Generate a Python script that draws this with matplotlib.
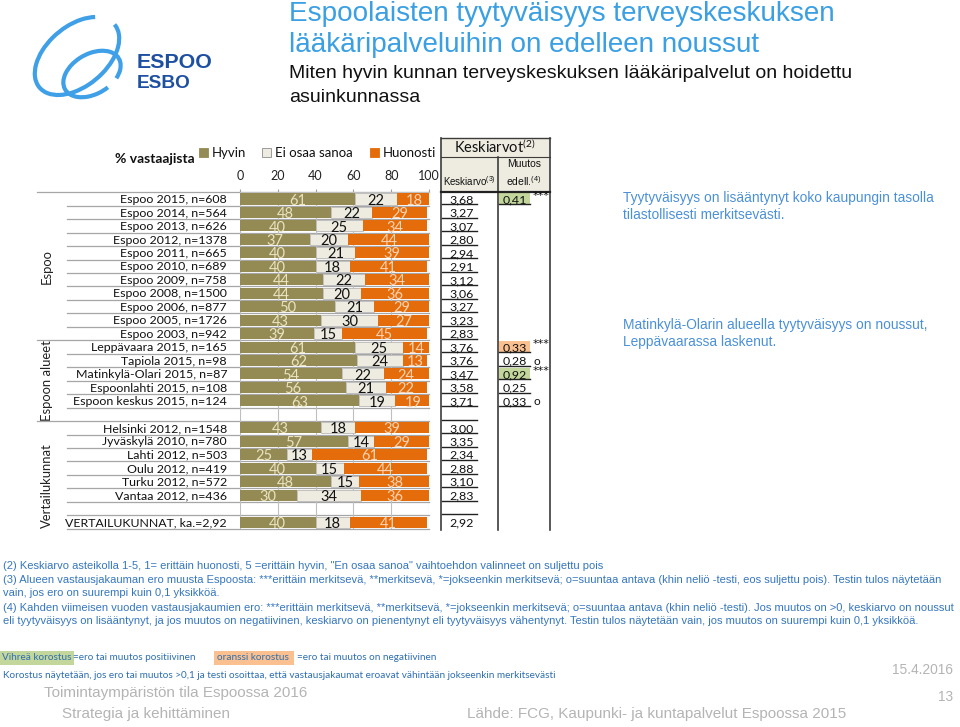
import matplotlib
matplotlib.use('Agg')
import matplotlib.pyplot as plt
import matplotlib.transforms as mtransforms
from matplotlib.patches import Rectangle, Arc
from matplotlib import font_manager
import numpy as np

# ---- data ----
labels = ['Espoo 2015, n=608', 'Espoo 2014, n=564', 'Espoo 2013, n=626', 'Espoo 2012, n=1378',
          'Espoo 2011, n=665', 'Espoo 2010, n=689', 'Espoo 2009, n=758', 'Espoo 2008, n=1500',
          'Espoo 2006, n=877', 'Espoo 2005, n=1726', 'Espoo 2003, n=942',
          'Leppävaara 2015, n=165', 'Tapiola 2015, n=98', 'Matinkylä-Olari 2015, n=87',
          'Espoonlahti 2015, n=108', 'Espoon keskus 2015, n=124', '',
          'Helsinki 2012, n=1548', 'Jyväskylä 2010, n=780', 'Lahti 2012, n=503',
          'Oulu 2012, n=419', 'Turku 2012, n=572', 'Vantaa 2012, n=436', '',
          'VERTAILUKUNNAT, ka.=2,92']
nan = np.nan
hyvin = [61, 48, 40, 37, 40, 40, 44, 44, 50, 43, 39, 61, 62, 54, 56, 63, nan,
         43, 57, 25, 40, 48, 30, nan, 40]
eos = [22, 22, 25, 20, 21, 18, 22, 20, 21, 30, 15, 25, 24, 22, 21, 19, nan,
       18, 14, 13, 15, 15, 34, nan, 18]
huonosti = [18, 29, 34, 44, 39, 41, 34, 36, 29, 27, 45, 14, 13, 24, 22, 19, nan,
            39, 29, 61, 44, 38, 36, nan, 41]
keskiarvo = [3.68, 3.27, 3.07, 2.80, 2.94, 2.91, 3.12, 3.06, 3.27, 3.23, 2.83,
             3.76, 3.76, 3.47, 3.58, 3.71, nan, 3.00, 3.35, 2.34, 2.88, 3.10, 2.83, nan, 2.92]
muutos = {0: 0.41, 11: 0.33, 12: 0.28, 13: 0.92, 14: 0.25, 15: 0.33}
merkit = {0: '***', 11: '***', 12: 'o', 13: '***', 15: 'o'}
korostus = {0: 'green', 11: 'orange', 13: 'green'}
groups = [('Espoo', 5.0), ('Espoon alueet', 13.5), ('Vertailukunnat', 21.3)]
group_starts = [0, 11, 17]
ticks = [0, 20, 40, 60, 80, 100]

C_HYV = '#948A54'
C_EOS = '#EEECE1'
C_HUO = '#E46C0A'
C_GREEN = '#C3D69B'
C_ORANGE = '#FAC090'
C_TITLE = '#3A9FE3'
C_NOTE = '#3576BE'
C_GRAY = '#B4B4B4'

names = {f.name for f in font_manager.fontManager.ttflist}
NARROW = 'Liberation Sans Narrow' if 'Liberation Sans Narrow' in names else 'Liberation Sans'
CAL = 'Lato'
plt.rcParams['font.family'] = [CAL, 'DejaVu Sans']
plt.rcParams['mathtext.default'] = 'regular'

W, H = 960, 727
fig = plt.figure(figsize=(W / 100, H / 100), dpi=100)
bg = fig.add_axes([0, 0, 1, 1])
bg.set_xlim(0, W)
bg.set_ylim(H, 0)
bg.axis('off')
renderer = fig.canvas.get_renderer()


def fit(t, width):
    w = t.get_window_extent(renderer).width
    t.set_fontsize(t.get_fontsize() * width / w)
    return t.get_fontsize()


# ---- bar axes ----
n = len(labels)
y0, dy = 199, 13.46
top_px = y0 - dy / 2
bot_px = y0 + (n - 0.5) * dy
x0, x1 = 240, 429
ax = fig.add_axes([x0 / W, 1 - bot_px / H, (x1 - x0) / W, (bot_px - top_px) / H])
ax.patch.set_visible(False)
ax.set_xlim(0, 100)
ax.set_ylim(n - 0.5, -0.5)
trans = mtransforms.blended_transform_factory(bg.transData, ax.transData)

rows = np.arange(n)
h = np.array(hyvin, float)
e = np.array(eos, float)
o = np.array(huonosti, float)
ax.barh(rows, h, height=0.82, color=C_HYV, zorder=3)
ax.barh(rows, e, left=h, height=0.82, color=C_EOS, edgecolor='#B8B8B8', linewidth=0.6, zorder=3)
ax.barh(rows, o, left=h + e, height=0.82, color=C_HUO, zorder=3)

for i in rows:
    if np.isnan(h[i]):
        continue
    ax.text(h[i] / 2, i + 0.12, f'{h[i]:.0f}', ha='center', va='center', fontsize=10.5,
            color='#EAE3C0', zorder=4)
    ax.text(h[i] + e[i] / 2, i + 0.12, f'{e[i]:.0f}', ha='center', va='center', fontsize=10.5,
            color='#111111', zorder=4)
    ax.text(h[i] + e[i] + o[i] / 2, i + 0.12, f'{o[i]:.0f}', ha='center', va='center',
            fontsize=10.5, color='#FBD3B3', zorder=4, clip_on=True)

ax.set_xticks(ticks)
ax.set_xticklabels([str(t) for t in ticks])
ax.set_yticks([])
ax.xaxis.tick_top()
ax.tick_params(axis='x', length=2.5, width=0.8, pad=5, labelsize=9, colors='#222222')
ax.tick_params(axis='x', color='#A0A0A0')
ax.grid(axis='x', color='#BFBFBF', linewidth=0.8, zorder=0)
for s in ['left', 'right', 'bottom']:
    ax.spines[s].set_visible(False)
ax.spines['top'].set_color('#BFBFBF')

# ---- row lines and labels ----
for k in range(n + 1):
    yb = k - 0.5
    if k in group_starts:
        xs = 37
    else:
        xs = 67
    bg.plot([xs, x1], [yb, yb], transform=trans, color='#A6A6A6', lw=0.9, zorder=1)

lab_size = None
for i, lab in enumerate(labels):
    if not lab:
        continue
    t = bg.text(227, i + 0.05, lab, transform=trans, ha='right', va='center',
                fontsize=10, color='#111111')
    if lab_size is None:
        lab_size = fit(t, 107)
    else:
        t.set_fontsize(lab_size)

for g, pos in groups:
    bg.text(47, pos, g, transform=trans, rotation=90, ha='center', va='center',
            fontsize=lab_size * 1.05, color='#222222')

# ---- keskiarvo table ----
for xv, ytop in [(441, 138), (498, 157), (550, 138)]:
    bg.plot([xv, xv], [ytop, 530], color='#3C3C3C', lw=1.2, zorder=2)
bg.add_patch(Rectangle((441, 138), 109, 54, facecolor='#EEECE1', edgecolor='none', zorder=1))
bg.plot([441, 550], [138, 138], color='#3C3C3C', lw=1.0, zorder=2)
bg.plot([441, 550], [157, 157], color='#3C3C3C', lw=0.8, zorder=2)
bg.plot([441, 550], [192, 192], color='#222222', lw=1.6, zorder=2)
bg.text(495, 147, r'Keskiarvot$^{(2)}$', ha='center', va='center', fontsize=10.5, color='#111111')
bg.text(469, 181, r'Keskiarvo$^{(3)}$', ha='center', va='center', fontsize=7,
        family=NARROW, color='#111111')
bg.text(524, 164, 'Muutos', ha='center', va='center', fontsize=7.5, family=NARROW,
        color='#111111')
bg.text(524, 181, r'edell.$^{(4)}$', ha='center', va='center', fontsize=7.5,
        family=NARROW, color='#111111')

for i in rows:
    if i < n - 1:
        bg.plot([442, 477], [i + 0.4, i + 0.4], transform=trans, color='#222222', lw=1.0)
    if np.isnan(keskiarvo[i]):
        continue
    bg.text(462, i + 0.05, f'{keskiarvo[i]:.2f}'.replace('.', ','), transform=trans,
            ha='center', va='center', fontsize=lab_size, color='#111111')

for i, v in muutos.items():
    if i in korostus:
        fc = C_GREEN if korostus[i] == 'green' else C_ORANGE
        bg.add_patch(Rectangle((499, i - 0.45), 31, 0.85, transform=trans,
                               facecolor=fc, edgecolor='none', zorder=1))
    bg.plot([499, 530], [i + 0.4, i + 0.4], transform=trans, color='#222222', lw=1.0)
    bg.text(515, i + 0.05, f'{v:.2f}'.replace('.', ','), transform=trans,
            ha='center', va='center', fontsize=lab_size, color='#111111')
for i, m in merkit.items():
    if m == 'o':
        bg.text(534, i + 0.05, m, transform=trans, ha='left', va='center', fontsize=8.5,
                color='#111111')
    else:
        bg.text(533, i - 0.2, m, transform=trans, ha='left', va='center', fontsize=8,
                family='DejaVu Sans', color='#111111')

# ---- legend ----
bg.text(115, 159, '% vastaajista', ha='left', va='center', fontsize=10,
        fontweight='bold', color='#111111')
for xq, fc, ec, txt in [(199, C_HYV, C_HYV, 'Hyvin'), (262, C_EOS, '#8C8C8C', 'Ei osaa sanoa'),
                        (370, C_HUO, C_HUO, 'Huonosti')]:
    bg.add_patch(Rectangle((xq, 148), 9, 9, facecolor=fc, edgecolor=ec, lw=0.6))
    bg.text(xq + 13, 153, txt, ha='left', va='center', fontsize=9.5, color='#111111')

# ---- header: logo and titles ----
bg.add_patch(Arc((77, 56), 98, 60, angle=-40, theta1=0, theta2=335, color='#3FA0E8', lw=3))
bg.add_patch(Arc((92, 74), 62, 40, angle=-30, theta1=70, theta2=400, color='#3FA0E8', lw=3))
t = bg.text(137, 62, 'ESPOO', ha='left', va='center', fontsize=14, fontweight='bold',
            family='Liberation Sans', color='#1E50A2')
fit(t, 76)
t = bg.text(137, 83, 'ESBO', ha='left', va='center', fontsize=14, fontweight='bold',
            family='Liberation Sans', color='#1E50A2')
fit(t, 54)

t = bg.text(289, 14, 'Espoolaisten tyytyväisyys terveyskeskuksen', ha='left', va='center',
            fontsize=20, family=NARROW, color=C_TITLE)
fit(t, 545)
t = bg.text(289, 45, 'lääkäripalveluihin on edelleen noussut', ha='left', va='center',
            fontsize=20, family=NARROW, color=C_TITLE)
fit(t, 471)
t = bg.text(289, 73, 'Miten hyvin kunnan terveyskeskuksen lääkäripalvelut on hoidettu',
            ha='left', va='center', fontsize=13, family=NARROW, color='#111111')
fit(t, 559)
bg.text(289, 98, 'asuinkunnassa', ha='left', va='center', fontsize=t.get_fontsize(),
        family=NARROW, color='#111111')

# ---- comments on the right ----
C_COMM = '#4A90D9'
t = bg.text(623, 198, 'Tyytyväisyys on lisääntynyt koko kaupungin tasolla', ha='left',
            va='center', fontsize=10, family='Liberation Sans', color=C_COMM)
cs = fit(t, 310)
bg.text(623, 215, 'tilastollisesti merkitsevästi.', ha='left', va='center', fontsize=cs,
        family='Liberation Sans', color=C_COMM)
bg.text(623, 325, 'Matinkylä-Olarin alueella tyytyväisyys on noussut,', ha='left',
        va='center', fontsize=cs, family='Liberation Sans', color=C_COMM)
bg.text(623, 342, 'Leppävaarassa laskenut.', ha='left', va='center', fontsize=cs,
        family='Liberation Sans', color=C_COMM)

# ---- footnotes ----
notes = [
    (566, '(2) Keskiarvo asteikolla 1-5, 1= erittäin huonosti, 5 =erittäin hyvin, "En osaa sanoa" '
          'vaihtoehdon valinneet on suljettu pois'),
    (580, '(3) Alueen vastausjakauman ero muusta Espoosta: ***erittäin merkitsevä, **merkitsevä, '
          '*=jokseenkin merkitsevä; o=suuntaa antava (khin neliö -testi, eos suljettu pois). '
          'Testin tulos näytetään'),
    (593, 'vain, jos ero on suurempi kuin 0,1 yksikköä.'),
    (608, '(4) Kahden viimeisen vuoden vastausjakaumien ero: ***erittäin merkitsevä, **merkitsevä, '
          '*=jokseenkin merkitsevä; o=suuntaa antava (khin neliö -testi). Jos muutos on >0, '
          'keskiarvo on noussut'),
    (621, 'eli tyytyväisyys on lisääntynyt, ja jos muutos on negatiivinen, keskiarvo on '
          'pienentynyt eli tyytyväisyys vähentynyt. Testin tulos näytetään vain, jos muutos on '
          'suurempi kuin 0,1 yksikköä.'),
]
note_texts = [bg.text(3, yy, s, ha='left', va='center', fontsize=8, family=NARROW,
                      color=C_NOTE) for yy, s in notes]
ns = fit(note_texts[3], 952)
for t in note_texts:
    t.set_fontsize(ns)

# ---- highlight legend ----
C_KOR = '#2E6FB0'
t1 = bg.text(2, 658, 'Vihreä korostus', ha='left', va='center', fontsize=7.5, color=C_KOR)
ks = fit(t1, 69)
t1.set_bbox(dict(facecolor=C_GREEN, edgecolor='none', pad=2))
bg.text(73, 658, '=ero tai muutos positiivinen', ha='left', va='center', fontsize=ks, color=C_KOR)
t2 = bg.text(217, 658, 'oranssi korostus ', ha='left', va='center', fontsize=ks, color=C_KOR)
t2.set_bbox(dict(facecolor=C_ORANGE, edgecolor='none', pad=2))
bg.text(297, 658, '=ero tai muutos on negatiivinen', ha='left', va='center', fontsize=ks,
        color=C_KOR)
bg.text(3, 675, 'Korostus näytetään, jos ero tai muutos >0,1 ja testi osoittaa, että '
        'vastausjakaumat eroavat vähintään jokseenkin merkitsevästi', ha='left', va='center',
        fontsize=ks, color=C_KOR)

# ---- footer ----
t = bg.text(44, 693, 'Toimintaympäristön tila Espoossa 2016', ha='left', va='center',
            fontsize=13, family=NARROW, color=C_GRAY)
fs = fit(t, 264)
bg.text(62, 714, 'Strategia ja kehittäminen', ha='left', va='center', fontsize=fs,
        family=NARROW, color=C_GRAY)
bg.text(467, 714, 'Lähde: FCG, Kaupunki- ja kuntapalvelut Espoossa 2015', ha='left',
        va='center', fontsize=fs, family=NARROW, color=C_GRAY)
bg.text(953, 670, '15.4.2016', ha='right', va='center', fontsize=fs * 0.9, family=NARROW,
        color=C_GRAY)
bg.text(953, 697, '13', ha='right', va='center', fontsize=fs * 0.9, family=NARROW,
        color=C_GRAY)

fig.savefig('out.png', dpi=100)
